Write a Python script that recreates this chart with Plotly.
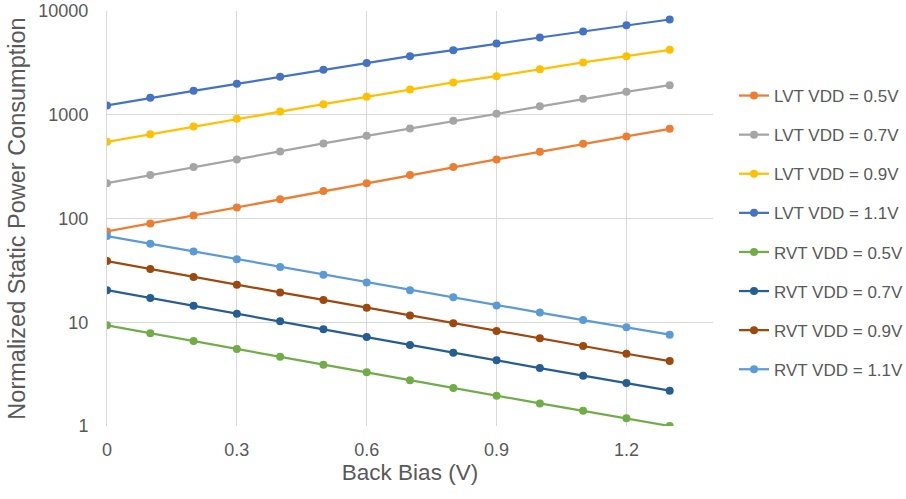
import plotly.graph_objects as go

back_bias = [0.0, 0.1, 0.2, 0.3, 0.4, 0.5, 0.6, 0.7, 0.8, 0.9, 1.0, 1.1, 1.2, 1.3]

lvt_05 = [75.1, 89.7, 107, 128, 153, 184, 219, 262, 313, 371, 439, 524, 618, 731]
lvt_07 = [219, 262, 313, 371, 443, 529, 626, 738, 874, 1020, 1210, 1423, 1662, 1928]
lvt_09 = [548, 650, 771, 913, 1076, 1265, 1487, 1753, 2047, 2354, 2749, 3190, 3670, 4220]
lvt_11 = [1230, 1455, 1700, 1985, 2318, 2708, 3162, 3670, 4190, 4864, 5555, 6345, 7300, 8280]
rvt_05 = [9.33, 7.82, 6.59, 5.52, 4.65, 3.90, 3.29, 2.76, 2.32, 1.96, 1.65, 1.40, 1.19, 1.00]
rvt_07 = [20.4, 17.1, 14.4, 12.1, 10.2, 8.54, 7.20, 6.03, 5.08, 4.30, 3.62, 3.05, 2.60, 2.19]
rvt_09 = [38.9, 32.6, 27.3, 23.0, 19.4, 16.4, 13.8, 11.6, 9.76, 8.23, 7.00, 5.90, 4.97, 4.23]
rvt_11 = [67.7, 57.1, 48.2, 40.4, 34.0, 28.7, 24.2, 20.4, 17.4, 14.5, 12.4, 10.5, 8.93, 7.58]

series_names = [
    "LVT VDD = 0.5V", "LVT VDD = 0.7V", "LVT VDD = 0.9V", "LVT VDD = 1.1V",
    "RVT VDD = 0.5V", "RVT VDD = 0.7V", "RVT VDD = 0.9V", "RVT VDD = 1.1V",
]
series_values = [lvt_05, lvt_07, lvt_09, lvt_11, rvt_05, rvt_07, rvt_09, rvt_11]
series_colors = [
    "#ED7D31", "#A5A5A5", "#FFC000", "#4472C4",
    "#70AD47", "#255E91", "#9E480E", "#5B9BD5",
]

y_tickvals = [1, 10, 100, 1000, 10000]
y_ticktext = ["1", "10", "100", "1000", "10000"]
x_tickvals = [0, 0.3, 0.6, 0.9, 1.2]
x_ticktext = ["0", "0.3", "0.6", "0.9", "1.2"]

FONT = "Liberation Sans, Arial, sans-serif"
TEXT_GRAY = "#595959"
GRID = "#D9D9D9"

fig = go.Figure()
for name, vals, color in zip(series_names, series_values, series_colors):
    fig.add_trace(go.Scatter(
        x=back_bias, y=vals, name=name, mode="lines+markers",
        legendgroup=name,
        line=dict(color=color, width=2.25),
        marker=dict(color=color, size=8),
    ))

fig.update_layout(
    width=906, height=499,
    margin=dict(l=107, r=193, t=11, b=73),
    paper_bgcolor="white", plot_bgcolor="white",
    font=dict(family=FONT, color=TEXT_GRAY, size=17),
    showlegend=True,
    legend=dict(
        xref="container", yref="container",
        x=734 / 906, y=1 - 78 / 499, xanchor="left", yanchor="top",
        font=dict(size=17, color=TEXT_GRAY),
        tracegroupgap=14, itemwidth=30, maxheight=420,
        bgcolor="rgba(0,0,0,0)",
    ),
)

fig.update_xaxes(
    range=[0, 1.4], tickvals=x_tickvals, ticktext=x_ticktext,
    showgrid=True, gridcolor=GRID, gridwidth=1,
    showline=False, zeroline=False, automargin=False,
    ticks="", ticklabelstandoff=11,
    tickfont=dict(size=18, color=TEXT_GRAY),
    title=dict(text="Back Bias (V)", font=dict(size=22.5, color=TEXT_GRAY), standoff=4),
)
fig.update_yaxes(
    type="log", range=[0, 4], tickvals=y_tickvals, ticktext=y_ticktext,
    showgrid=True, gridcolor=GRID, gridwidth=1,
    showline=True, linecolor=GRID, linewidth=1,
    zeroline=False, automargin=False, ticks="", ticklabelstandoff=14,
    tickfont=dict(size=18, color=TEXT_GRAY),
    title=dict(text="Normalized Static Power Consumption",
               font=dict(size=23.5, color=TEXT_GRAY), standoff=6),
)

fig.write_html("out.html")
